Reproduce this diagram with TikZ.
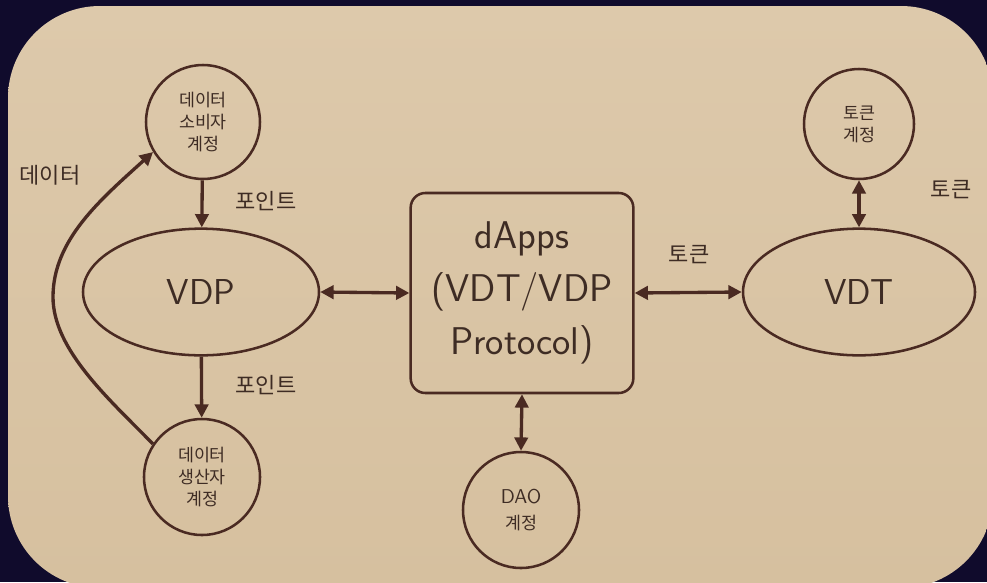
\documentclass[tikz,border=0pt]{standalone}
\usepackage{fontspec}
\newfontfamily\kor{Noto Sans CJK KR}
\usetikzlibrary{shapes.geometric,arrows.meta}
\definecolor{navy}{HTML}{100B2C}
\definecolor{paper}{HTML}{D6C09F}
\definecolor{paperlight}{HTML}{DDC9AB}
\definecolor{ink}{HTML}{4A2A22}
\definecolor{txt}{HTML}{3E2C24}
\begin{document}
\begin{tikzpicture}[x=0.75pt,y=-0.75pt,
  shapeline/.style={draw=ink,line width=1.9pt},
  acct/.style={shapeline,circle,inner sep=0pt,align=center,text=txt,
    font=\kor\fontsize{13}{16.5}\selectfont},
  oval/.style={shapeline,ellipse,inner sep=0pt,text=txt,
    font=\sffamily\fontsize{27}{30}\selectfont},
  tip/.style={Triangle[length=10pt,width=10pt]},
  arr/.style={draw=ink,line width=2.5pt,-{Triangle[length=10pt,width=10pt]}},
  darr/.style={draw=ink,line width=2.5pt,{Triangle[length=10pt,width=10pt]}-{Triangle[length=10pt,width=10pt]}},
  lbl/.style={text=txt,font=\kor\fontsize{16.5}{18}\selectfont}]
\useasboundingbox (0,0) rectangle (987,582);
\fill[navy] (0,0) rectangle (987,582);
\begin{scope}
\clip (0,0) rectangle (987,582);
\shade[top color=paperlight,bottom color=paper,rounded corners=69pt] (8,6) rectangle (993,588);
\end{scope}
% nodes
\node[acct,minimum size=85.5pt] (cons) at (203,122) {데이터\\소비자\\계정};
\node[oval,minimum width=177pt,minimum height=95pt] (vdp) at (201,292) {VDP};
\node[acct,minimum size=87pt] (prod) at (202,477) {데이터\\생산자\\계정};
\node[shapeline,rounded corners=11pt,minimum width=167pt,minimum height=150pt,
  align=center,text=txt,font=\sffamily\fontsize{29}{40}\selectfont] (dapps) at (522,293) {dApps\\(VDT/VDP\\Protocol)};
\node[oval,minimum width=174pt,minimum height=95pt] (vdt) at (859,292) {VDT};
\node[acct,minimum size=82.5pt] (tok) at (859,124) {토큰\\계정};
\node[acct,minimum size=87pt,font=\fontsize{13}{20}\selectfont] (dao) at (521,510) {\sffamily\fontsize{15}{20}\selectfont DAO\\\kor 계정};
% connectors
\draw[arr] (cons) -- (vdp);
\draw[arr] (vdp) -- (prod);
\coordinate (bend) at (53,297);
\draw[arr] (prod.146) .. controls (110,400) and (53,350) .. (bend)
  .. controls (53,240) and (100,200) .. (cons.211);
\draw[darr] (vdp.east) -- (dapps.west);
\draw[darr] (dapps.east) -- (vdt.west);
\draw[darr] (dapps.south) -- (dao.north);
\draw[darr] (vdt.north) -- (tok.south);
% labels
\node[lbl] (l1) at (266,201) {포인트};
\node[lbl] (l2) at (266,385) {포인트};
\node[lbl] (l3) at (50,175) {데이터};
\node[lbl] (l4) at (689,255) {토큰};
\node[lbl] (l5) at (951,190) {토큰};
\end{tikzpicture}
\end{document}
